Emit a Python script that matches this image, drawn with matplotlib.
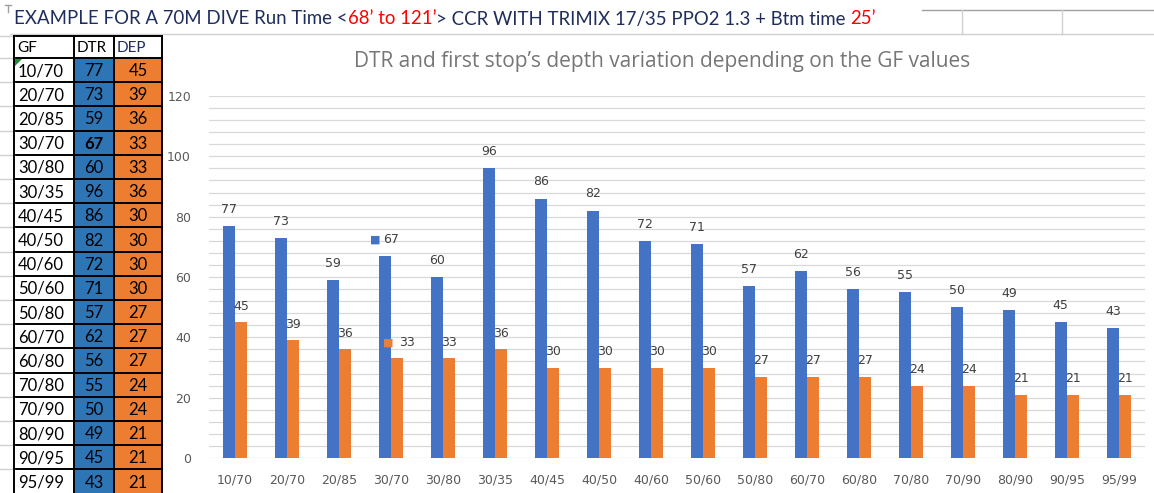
import matplotlib.pyplot as plt
from matplotlib.patches import Rectangle, Polygon

gf = ['10/70', '20/70', '20/85', '30/70', '30/80', '30/35', '40/45', '40/50', '40/60',
      '50/60', '50/80', '60/70', '60/80', '70/80', '70/90', '80/90', '90/95', '95/99']
dtr = [77, 73, 59, 67, 60, 96, 86, 82, 72, 71, 57, 62, 56, 55, 50, 49, 45, 43]
dep = [45, 39, 36, 33, 33, 36, 30, 30, 30, 30, 27, 27, 27, 24, 24, 21, 21, 21]
headers = ['GF', 'DTR', 'DEP']
title = 'DTR and first stop\u2019s depth variation depending on the GF values'
top_parts = [('EXAMPLE FOR A 70M DIVE Run Time <', '#1f2d5c'), ('68\u2019 to 121\u2019', '#ff0000'),
             ('> CCR WITH TRIMIX 17/35 PPO2 1.3 + Btm time ', '#1f2d5c'), ('25\u2019', '#ff0000')]

W, H = 1154, 493
fig = plt.figure(figsize=(W / 100, H / 100), dpi=100)

# background layer in pixel coords (spreadsheet part)
bg = fig.add_axes([0, 0, 1, 1])
bg.set_xlim(0, W)
bg.set_ylim(H, 0)
bg.axis('off')

# sheet grid lines at top
bg.plot([10, W], [34, 34], color='#d0d0d0', lw=1)
bg.plot([922, W], [10, 10], color='#a0a0a0', lw=1)
for xv in [962, 1062]:
    bg.plot([xv, xv], [10, 34], color='#d0d0d0', lw=1)
bg.plot([5, 11], [5, 5], color='#a0a0a0', lw=1)
bg.plot([8, 8], [5, 12], color='#a0a0a0', lw=1)

# top header text, drawn piece by piece
r = fig.canvas.get_renderer()
x = 14
for s, c in top_parts:
    t = bg.text(x, 19, s, color=c, fontsize=13.4, family='Lato', va='center', ha='left')
    x += t.get_window_extent(r).width

# table
cols = [14, 74, 114, 162]
top, hdr_bot, pitch = 36, 58, 24.2
bg.add_patch(Rectangle((cols[0], top), cols[3] - cols[0], hdr_bot - top, fc='white', ec='none'))
for i, h in enumerate(headers):
    bg.text(cols[i] + 3, (top + hdr_bot) / 2 + 1, h, fontsize=11, family='Lato', va='center',
            color='#1f2d5c' if h == 'DEP' else 'black')
for i in range(len(gf)):
    y0 = hdr_bot + i * pitch
    bg.add_patch(Rectangle((cols[1], y0), cols[2] - cols[1], pitch, fc='#2e75b6', ec='none'))
    bg.add_patch(Rectangle((cols[2], y0), cols[3] - cols[2], pitch, fc='#ed7d31', ec='none'))
    yc = y0 + pitch / 2 + 1
    bg.text(cols[0] + 4, yc, gf[i], fontsize=12, family='Lato', va='center', color='black')
    bg.text((cols[1] + cols[2]) / 2, yc, str(dtr[i]), fontsize=12, family='Lato', va='center',
            ha='center', color='black', fontweight='bold' if gf[i] == '30/70' else 'normal')
    bg.text((cols[2] + cols[3]) / 2, yc, str(dep[i]), fontsize=12, family='Lato', va='center',
            ha='center', color='black')
# borders
ys = [top, hdr_bot] + [hdr_bot + (i + 1) * pitch for i in range(len(gf))]
for yv in ys:
    bg.plot([cols[0], cols[3]], [yv, yv], color='black', lw=1.4)
    bg.plot([0, cols[0]], [yv, yv], color='#d0d0d0', lw=1)
for xv in cols:
    bg.plot([xv, xv], [top, H], color='black', lw=1.4)
bg.add_patch(Polygon([[cols[0] + 1, hdr_bot + 1], [cols[0] + 8, hdr_bot + 1], [cols[0] + 1, hdr_bot + 8]],
                     fc='#1e8c3a', ec='none'))

# chart
ax = fig.add_axes([209 / W, (H - 458) / H, (1145 - 209) / W, (458 - 96) / H])
ax.patch.set_alpha(0)
xs = list(range(len(gf)))
bw = 0.24
ax.bar([v - bw for v in xs], dtr, width=bw, align='edge', color='#4472c4', zorder=2)
ax.bar(xs, dep, width=bw, align='edge', color='#ed7d31', zorder=2)
ax.set_xlim(-0.5, len(gf) - 0.5)
ax.set_ylim(0, 120)
ax.set_yticks(range(0, 121, 20))
ax.set_yticks(range(0, 121, 4), minor=True)
ax.set_xticks(xs)
ax.set_xticklabels(gf)
ax.grid(axis='y', which='both', color='#d9d9d9', lw=0.9, zorder=0)
ax.set_axisbelow(True)
for sp in ax.spines.values():
    sp.set_visible(False)
ax.tick_params(which='both', length=0, colors='#595959', labelsize=9)
ax.tick_params(axis='y', pad=13)
ax.tick_params(axis='x', pad=11)

lab = dict(textcoords='offset points', fontsize=9, color='#404040', va='center')
for i in xs:
    if gf[i] == '30/70':
        ax.annotate('\u25a0', (i - bw / 2, dtr[i]), xytext=(-6.5, 11.5), ha='center',
                    **{**lab, 'color': '#4472c4', 'fontsize': 8})
        ax.annotate(str(dtr[i]), (i - bw / 2, dtr[i]), xytext=(-1.5, 11.5), ha='left', **lab)
        ax.annotate('\u25a0', (i + bw / 2, dep[i]), xytext=(-6.5, 11.5), ha='center',
                    **{**lab, 'color': '#ed7d31', 'fontsize': 8})
        ax.annotate(str(dep[i]), (i + bw / 2, dep[i]), xytext=(1.5, 11.5), ha='left', **lab)
    else:
        ax.annotate(str(dtr[i]), (i - bw / 2, dtr[i]), xytext=(0, 12), ha='center', **lab)
        ax.annotate(str(dep[i]), (i + bw / 2, dep[i]), xytext=(0, 11.5), ha='center', **lab)

bg.text(662, 61, title, fontsize=15, family='Open Sans', color='#767676', ha='center', va='center')

plt.savefig('out.png', dpi=100)
